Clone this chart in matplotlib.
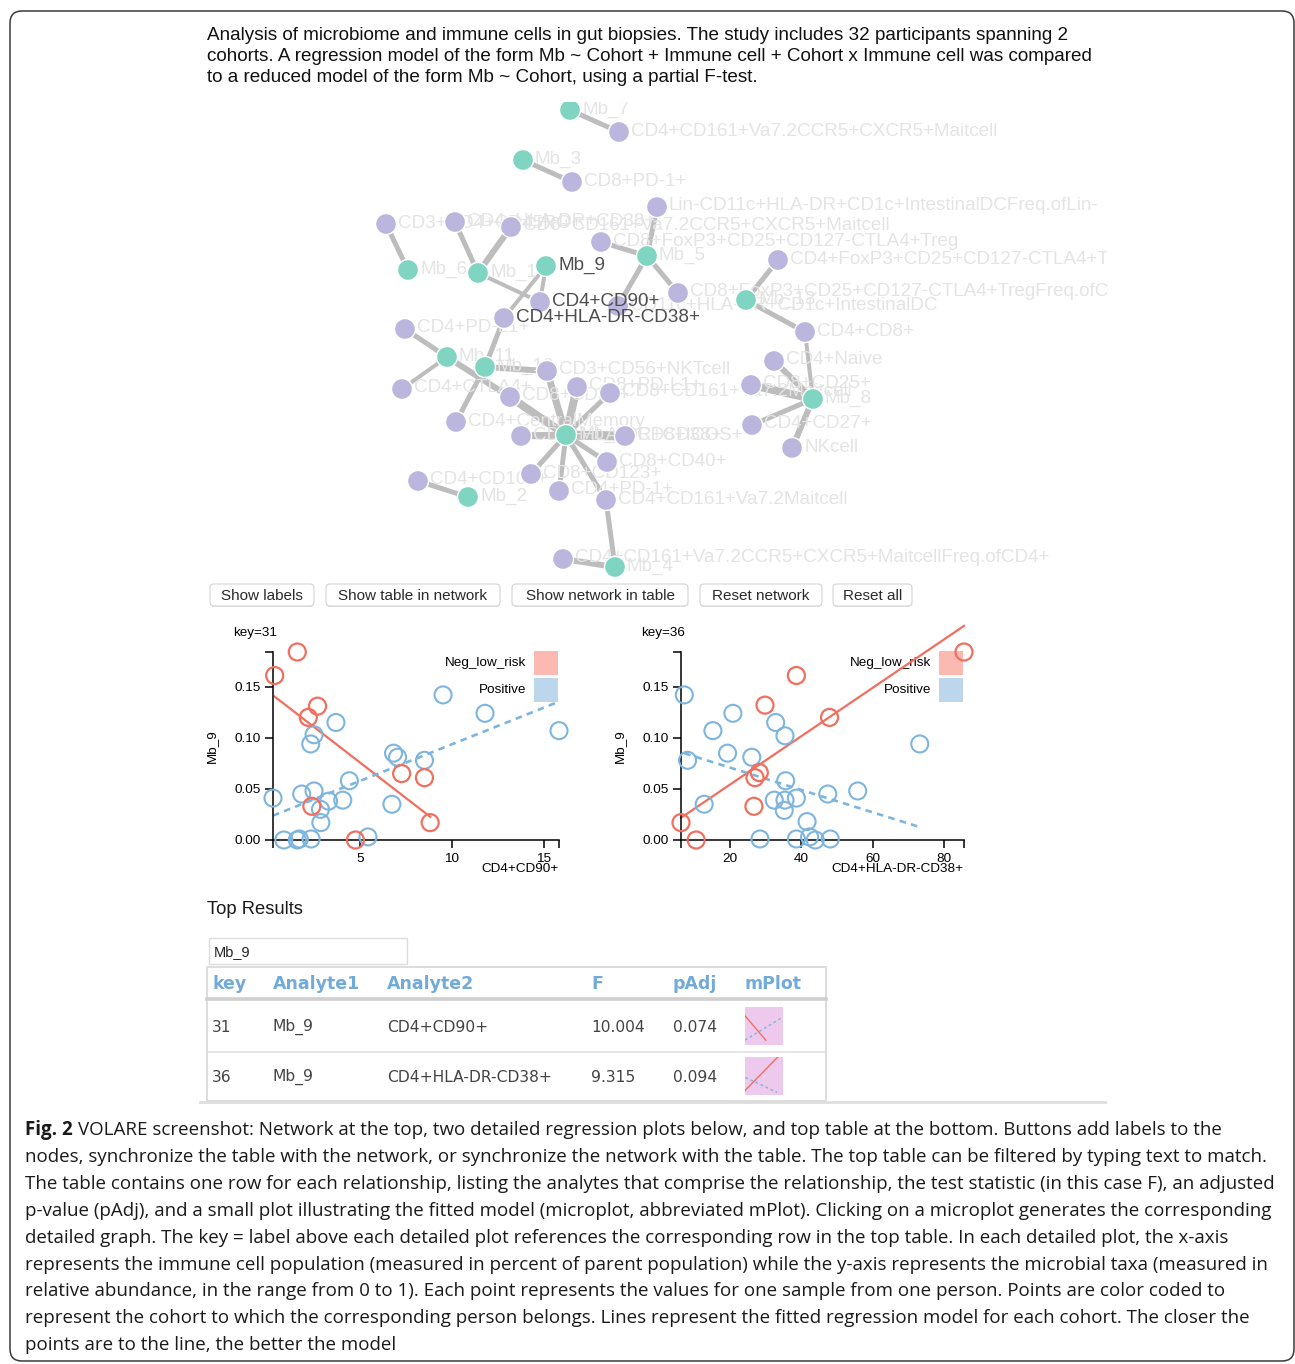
import matplotlib.pyplot as plt
from matplotlib.patches import FancyBboxPatch, Rectangle, Circle
from matplotlib.transforms import Bbox, TransformedBbox
import numpy as np

W, H = 1295, 1364
SANS = "Liberation Sans"

header = [
    "Analysis of microbiome and immune cells in gut biopsies. The study includes 32 participants spanning 2",
    "cohorts. A regression model of the form Mb ~ Cohort + Immune cell + Cohort x Immune cell was compared",
    "to a reduced model of the form Mb ~ Cohort, using a partial F-test.",
]

# ---- network: microbe nodes, immune cell nodes, edges ----
mb_nodes = ["Mb_7", "Mb_3", "Mb_6", "Mb_1", "Mb_9", "Mb_5", "Mb_13", "Mb_11",
            "Mb_10", "Mb_12", "Mb_2", "Mb_4", "Mb_8"]
edge_src = ["Mb_7", "Mb_3", "Mb_5", "Mb_5", "Mb_5", "Mb_5", "Mb_6", "Mb_1", "Mb_1",
            "Mb_1", "Mb_9", "Mb_9", "Mb_10", "Mb_13", "Mb_13", "Mb_8", "Mb_11", "Mb_11",
            "Mb_11", "Mb_10", "Mb_10", "Mb_12", "Mb_12", "Mb_12", "Mb_12", "Mb_12",
            "Mb_12", "Mb_12", "Mb_12", "Mb_12", "Mb_12", "Mb_4", "Mb_4", "Mb_2",
            "Mb_8", "Mb_8", "Mb_8", "Mb_8"]
edge_dst = ["CD4+CD161+Va7.2CCR5+CXCR5+Maitcell", "CD8+PD-1+",
            "Lin-CD11c+HLA-DR+CD1c+IntestinalDCFreq.ofLin-",
            "CD8+FoxP3+CD25+CD127-CTLA4+Treg",
            "CD8+FoxP3+CD25+CD127-CTLA4+TregFreq.ofCD8+",
            "CD11c+HLA-DR+CD1c+IntestinalDC", "CD3+CD4+CD45RO+", "CD4+HLA-DR+CD38+",
            "CD8+CD161+Va7.2CCR5+CXCR5+Maitcell", "CD4+CD90+", "CD4+CD90+",
            "CD4+HLA-DR-CD38+", "CD4+HLA-DR-CD38+",
            "CD4+FoxP3+CD25+CD127-CTLA4+TregFreq.ofCD4+", "CD4+CD8+", "CD4+CD8+",
            "CD4+PD-L1+", "CD4+CTLA4+", "CD8+CD39+", "CD4+CentralMemory",
            "CD3+CD56+NKTcell", "CD3+CD56+NKTcell", "CD8+CD39+", "CD8+PD-L1+",
            "CD8+CD161+Va7.2Maitcell", "CD8+HLA-DR+CD38+", "CD8+ICOS+", "CD8+CD40+",
            "CD8+CD123+", "CD4+PD-1+", "CD4+CD161+Va7.2Maitcell",
            "CD4+CD161+Va7.2Maitcell", "CD4+CD161+Va7.2CCR5+CXCR5+MaitcellFreq.ofCD4+",
            "CD4+CD103+", "CD4+Naive", "CD8+CD25+", "CD4+CD27+", "NKcell"]
edge_weight = [5, 5, 5, 5, 5, 5, 5, 5, 6, 4, 4, 4, 5, 5, 5, 4, 5, 4, 6, 5, 6, 7, 8, 8,
               5, 7, 9, 5, 5, 5, 5, 5, 6, 5, 6, 8, 5, 6]
selected = ["Mb_9", "CD4+CD90+", "CD4+HLA-DR-CD38+"]

# force layout result (pixel positions)
layout = {
    "Mb_7": (570, 110), "Mb_3": (523, 160), "Mb_6": (408, 270), "Mb_1": (478, 273),
    "Mb_9": (546, 266), "Mb_5": (647, 256), "Mb_13": (746, 300), "Mb_11": (447, 357),
    "Mb_10": (485, 367), "Mb_12": (566, 435), "Mb_2": (468, 497), "Mb_4": (615, 567),
    "Mb_8": (813, 399),
    "CD4+CD161+Va7.2CCR5+CXCR5+Maitcell": (619, 132), "CD8+PD-1+": (572, 182),
    "Lin-CD11c+HLA-DR+CD1c+IntestinalDCFreq.ofLin-": (657, 207),
    "CD8+FoxP3+CD25+CD127-CTLA4+Treg": (601, 242),
    "CD8+FoxP3+CD25+CD127-CTLA4+TregFreq.ofCD8+": (678, 293),
    "CD11c+HLA-DR+CD1c+IntestinalDC": (618, 306), "CD3+CD4+CD45RO+": (386, 224),
    "CD4+HLA-DR+CD38+": (455, 222), "CD8+CD161+Va7.2CCR5+CXCR5+Maitcell": (511, 227),
    "CD4+CD90+": (540, 302), "CD4+HLA-DR-CD38+": (504, 318),
    "CD4+FoxP3+CD25+CD127-CTLA4+TregFreq.ofCD4+": (778, 260), "CD4+CD8+": (805, 332),
    "CD4+PD-L1+": (405, 329), "CD4+CTLA4+": (402, 389), "CD8+CD39+": (510, 397),
    "CD4+CentralMemory": (456, 422), "CD3+CD56+NKTcell": (547, 371),
    "CD8+PD-L1+": (577, 387), "CD8+CD161+Va7.2Maitcell": (610, 393),
    "CD8+HLA-DR+CD38+": (521, 436), "CD8+ICOS+": (625, 436), "CD8+CD40+": (607, 462),
    "CD8+CD123+": (531, 474), "CD4+PD-1+": (559, 491), "CD4+CD161+Va7.2Maitcell": (606, 500),
    "CD4+CD161+Va7.2CCR5+CXCR5+MaitcellFreq.ofCD4+": (563, 559), "CD4+CD103+": (418, 481),
    "CD4+Naive": (774, 361), "CD8+CD25+": (751, 385), "CD4+CD27+": (752, 425),
    "NKcell": (792, 448),
}

buttons = ["Show labels", "Show table in network", "Show network in table",
           "Reset network", "Reset all"]
button_x = [(210, 314), (326, 500), (512, 688), (700, 822), (833, 912)]

# ---- detailed plots: key=31 and key=36 ----
y_name = "Mb_9"
x_names = ["CD4+CD90+", "CD4+HLA-DR-CD38+"]
keys = [31, 36]
groups = ["Neg_low_risk", "Positive"]

neg_x31 = [0.37, 1.6, 2.7, 2.2, 2.39, 4.76, 7.27, 8.51, 8.82]
neg_y31 = [0.161, 0.184, 0.131, 0.120, 0.033, 0.0, 0.065, 0.061, 0.017]
pos_x31 = [0.28, 0.87, 1.6, 1.71, 2.35, 1.84, 2.51, 2.33, 2.51, 3.70, 2.86, 2.88,
           3.30, 4.07, 4.43, 5.44, 6.74, 6.83, 7.05, 8.51, 9.52, 11.80, 15.82]
pos_y31 = [0.041, 0.0, 0.0, 0.001, 0.001, 0.045, 0.048, 0.094, 0.103, 0.115, 0.030,
           0.017, 0.038, 0.039, 0.058, 0.003, 0.035, 0.085, 0.081, 0.078, 0.142,
           0.124, 0.107]

neg_x36 = [6.25, 10.5, 26.7, 27.0, 28.2, 29.8, 38.6, 47.9, 85.6]
neg_y36 = [0.017, 0.0, 0.033, 0.061, 0.066, 0.132, 0.161, 0.120, 0.184]
pos_x36 = [7.17, 8.1, 12.75, 15.2, 19.3, 20.8, 26.1, 28.4, 32.4, 32.8, 35.4, 35.4,
           35.2, 35.6, 38.6, 38.6, 41.6, 42.3, 43.9, 47.4, 48.1, 55.8, 73.2]
pos_y36 = [0.142, 0.078, 0.035, 0.107, 0.085, 0.124, 0.081, 0.001, 0.039, 0.115,
           0.102, 0.039, 0.029, 0.058, 0.041, 0.001, 0.018, 0.003, 0.0, 0.045,
           0.001, 0.048, 0.094]

x_ticks = [[5, 10, 15], [20, 40, 60, 80]]
y_ticks = [0.0, 0.05, 0.10, 0.15]

# ---- top results table ----
columns = ["key", "Analyte1", "Analyte2", "F", "pAdj", "mPlot"]
analyte1 = ["Mb_9", "Mb_9"]
analyte2 = ["CD4+CD90+", "CD4+HLA-DR-CD38+"]
f_stat = [10.004, 9.315]
p_adj = [0.074, 0.094]
search_text = "Mb_9"

caption = [
    "VOLARE screenshot: Network at the top, two detailed regression plots below, and top table at the bottom. Buttons add labels to the",
    "nodes, synchronize the table with the network, or synchronize the network with the table. The top table can be filtered by typing text to match.",
    "The table contains one row for each relationship, listing the analytes that comprise the relationship, the test statistic (in this case F), an adjusted",
    "p-value (pAdj), and a small plot illustrating the fitted model (microplot, abbreviated mPlot). Clicking on a microplot generates the corresponding",
    "detailed graph. The key = label above each detailed plot references the corresponding row in the top table. In each detailed plot, the x-axis",
    "represents the immune cell population (measured in percent of parent population) while the y-axis represents the microbial taxa (measured in",
    "relative abundance, in the range from 0 to 1). Each point represents the values for one sample from one person. Points are color coded to",
    "represent the cohort to which the corresponding person belongs. Lines represent the fitted regression model for each cohort. The closer the",
    "points are to the line, the better the model",
]

TEAL = "#80d5c2"
PURPLE = "#bab6de"
RED = "#f26f5f"
BLUE = "#7db5df"
RED_SQ = "#fbb9b1"
BLUE_SQ = "#bcd6ec"
HEAD_BLUE = "#72aad8"

fig = plt.figure(figsize=(W / 100, H / 100), dpi=100)
bg = fig.add_axes([0, 0, 1, 1])
bg.set_xlim(0, W)
bg.set_ylim(H, 0)
bg.axis("off")

# outer frame
bg.add_patch(FancyBboxPatch((10, 11), 1284, 1350, boxstyle="round,pad=0,rounding_size=12",
                            fc="white", ec="#3a3a3a", lw=1.1))

for i, line in enumerate(header):
    bg.text(207, 35 + i * 21.5, line, fontsize=13.6, family=SANS, color="#111111",
            va="center", ha="left")

# network, clipped to its svg viewport
clip = Rectangle((200, 102), 907, 476, transform=bg.transData)
clip_box = TransformedBbox(Bbox([[200, 102], [1107, 578]]), bg.transData)
for s, d, w in zip(edge_src, edge_dst, edge_weight):
    (x0, y0), (x1, y1) = layout[s], layout[d]
    ln, = bg.plot([x0, x1], [y0, y1], color="#bdbdbd", lw=w * 0.72, solid_capstyle="butt",
                  zorder=2)
    ln.set_clip_path(clip)

all_nodes = list(layout.keys())
for name in all_nodes:
    if name in selected:
        continue
    x, y = layout[name]
    t = bg.text(x + 12, y - 1, name, fontsize=13.6, family=SANS, color="#e4e4e4",
                va="center", ha="left", zorder=3)
    t.set_clip_on(True)
    t.set_clip_box(clip_box)

for name in all_nodes:
    x, y = layout[name]
    c = Circle((x, y), 10.5, fc=TEAL if name in mb_nodes else PURPLE, ec="white",
               lw=1.0, zorder=4)
    bg.add_patch(c)
    c.set_clip_path(clip)

for name in selected:
    x, y = layout[name]
    bg.text(x + 12, y - 1, name, fontsize=13.6, family=SANS, color="#4e4e4e",
            va="center", ha="left", zorder=5)

# buttons
for label, (x0, x1) in zip(buttons, button_x):
    bg.add_patch(FancyBboxPatch((x0, 585), x1 - x0, 22, boxstyle="round,pad=0,rounding_size=4",
                                fc="#e4e4e4", ec="none"))
    bg.add_patch(FancyBboxPatch((x0, 584), x1 - x0, 22, boxstyle="round,pad=0,rounding_size=4",
                                fc="white", ec="#d4d4d4", lw=0.8))
    bg.text((x0 + x1) / 2, 595.5, label, fontsize=11, family=SANS, color="#2a2a2a",
            ha="center", va="center")

# detailed regression plots
plot_rects = [(273, 559), (681, 964)]
sets = [(neg_x31, neg_y31, pos_x31, pos_y31), (neg_x36, neg_y36, pos_x36, pos_y36)]
fits = []
for k, ((l, r), (nx, ny, px, py)) in enumerate(zip(plot_rects, sets)):
    top, bot = 652, 840
    ax = fig.add_axes([l / W, 1 - bot / H, (r - l) / W, (bot - top) / H])
    ax.patch.set_alpha(0)
    xmin, xmax = min(nx + px), max(nx + px)
    ymax = max(ny + py)
    ax.set_xlim(xmin, xmax)
    ax.set_ylim(0, ymax)

    line_specs = []
    for gx, gy, col, ls in [(nx, ny, RED, "-"), (px, py, BLUE, (0, (2.5, 2)))]:
        gx, gy = np.array(gx), np.array(gy)
        b, a = np.polyfit(gx, gy, 1)
        xs = np.array([gx.min(), gx.max()])
        ax.plot(xs, a + b * xs, color=col, lw=1.6 if ls == "-" else 1.9, ls=ls,
                clip_on=False, zorder=2)
        line_specs.append((xs, a + b * xs, col, ls))
    fits.append(((xmin, xmax, ymax), line_specs))

    ax.scatter(px, py, s=150, facecolors="none", edgecolors=BLUE, linewidths=1.5,
               clip_on=False, zorder=3)
    ax.scatter(nx, ny, s=150, facecolors="none", edgecolors=RED, linewidths=1.6,
               clip_on=False, zorder=3)

    for sp in ["top", "right"]:
        ax.spines[sp].set_visible(False)
    for sp in ["left", "bottom"]:
        ax.spines[sp].set_linewidth(1.1)
    ax.set_xticks(x_ticks[k])
    ax.set_yticks(y_ticks)
    ax.set_yticklabels(["%.2f" % v for v in y_ticks])
    ax.set_xticks([xmin, xmax], minor=True)
    ax.set_yticks([ymax], minor=True)
    ax.tick_params(which="both", length=6, width=1.1, direction="out", pad=3,
                   labelsize=9.7)
    for lab in ax.get_xticklabels() + ax.get_yticklabels():
        lab.set_family(SANS)

    bg.text(l - 40, 633, "key=%d" % keys[k], fontsize=9.7, family=SANS, ha="left",
            va="center")
    bg.text(l - 61, (top + bot) / 2, y_name, fontsize=9.7, family=SANS, rotation=90,
            ha="center", va="center")
    bg.text(r, 869, x_names[k], fontsize=9.7, family=SANS, ha="right", va="center")

    for j, (g, sq) in enumerate(zip(groups, [RED_SQ, BLUE_SQ])):
        y0 = 651 + j * 27
        bg.add_patch(Rectangle((r - 25, y0), 24, 24, fc=sq, ec="none", zorder=1))
        bg.text(r - 33, y0 + 12, g, fontsize=9.7, family=SANS, ha="right", va="center")

# top results table
bg.text(207, 910, "Top Results", fontsize=13.2, family=SANS, color="#1a1a1a", va="center")
bg.add_patch(Rectangle((209, 938), 198, 26, fc="white", ec="#dcdcdc", lw=1))
bg.text(214, 952, search_text, fontsize=10.5, family=SANS, color="#222222", va="center")

bg.add_patch(Rectangle((207, 967), 619, 134, fc="none", ec="#dddddd", lw=1.4))
col_x = [212, 273, 387, 591, 673, 745]
for cx, name in zip(col_x, columns):
    bg.text(cx, 984, name, fontsize=12.5, family="DejaVu Sans", fontweight="bold",
            color=HEAD_BLUE, va="center", ha="left")
bg.plot([207, 826], [998.5, 998.5], color="#cfcfcf", lw=2.6)
bg.plot([207, 826], [1052, 1052], color="#e0e0e0", lw=1.2)
bg.plot([200, 1105], [1102, 1102], color="#dedede", lw=2)

row_y = [1027, 1077]
for i in range(len(keys)):
    vals = [str(keys[i]), analyte1[i], analyte2[i], "%.3f" % f_stat[i], "%.3f" % p_adj[i]]
    for cx, v in zip(col_x, vals):
        bg.text(cx, row_y[i], v, fontsize=11.2, family="DejaVu Sans", color="#444444",
                va="center", ha="left")
    # microplot thumbnail
    t0 = row_y[i] - 20
    mx = fig.add_axes([745 / W, 1 - (t0 + 38) / H, 38 / W, 38 / H])
    mx.set_facecolor("#edc9ed")
    (xmin, xmax, ymax), specs = fits[i]
    for xs, ys, col, ls in specs:
        mx.plot(xs, ys, color=col, lw=1.0, ls=ls if ls == "-" else (0, (2, 2)))
    mx.set_xlim(xmin, xmax)
    mx.set_ylim(0, ymax)
    mx.set_xticks([])
    mx.set_yticks([])
    for sp in mx.spines.values():
        sp.set_visible(False)

# caption
cap_y = [1130 + i * 26.9 for i in range(len(caption))]
CAP = "Open Sans"
CAP_FS = 13.5
renderer = fig.canvas.get_renderer()
fig_lab = bg.text(25, cap_y[0], "Fig. 2", fontsize=CAP_FS, family=CAP, fontweight="bold",
                  color="#1a1a1a", va="center", ha="left")
ext = fig_lab.get_window_extent(renderer=renderer)
bg.text(ext.x1 + 5, cap_y[0], caption[0], fontsize=CAP_FS, family=CAP, color="#1a1a1a",
        va="center", ha="left")
for y, line in zip(cap_y[1:], caption[1:]):
    bg.text(25, y, line, fontsize=CAP_FS, family=CAP, color="#1a1a1a", va="center", ha="left")

fig.savefig("out.png", dpi=100)
